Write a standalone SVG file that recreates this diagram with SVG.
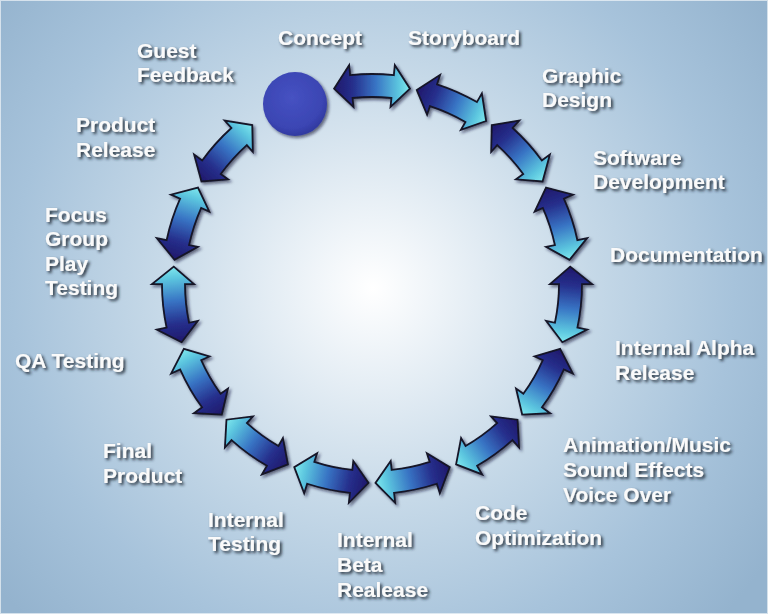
<svg xmlns="http://www.w3.org/2000/svg" xmlns:xlink="http://www.w3.org/1999/xlink" width="768" height="614" viewBox="0 0 768 614">
  <defs>
    <radialGradient id="bg" cx="373" cy="288" r="480" gradientUnits="userSpaceOnUse">
      <stop offset="0" stop-color="#ffffff"/>
      <stop offset="0.12" stop-color="#f0f5f9"/>
      <stop offset="0.45" stop-color="#c6d9e8"/>
      <stop offset="0.75" stop-color="#a7c3db"/>
      <stop offset="1" stop-color="#94b3ce"/>
    </radialGradient>
    <!-- shaft colour runs from navy at the start of each arrow to cyan at its end -->
    <linearGradient id="arrowFill" x1="-38" y1="0" x2="38" y2="0" gradientUnits="userSpaceOnUse">
      <stop offset="0" stop-color="#1e186a"/>
      <stop offset="0.25" stop-color="#262f8c"/>
      <stop offset="0.55" stop-color="#3874c4"/>
      <stop offset="0.85" stop-color="#5cc6df"/>
      <stop offset="1" stop-color="#80e8ee"/>
    </linearGradient>
    <radialGradient id="dotFill" cx="0.45" cy="0.4" r="0.6">
      <stop offset="0" stop-color="#4652c2"/>
      <stop offset="0.8" stop-color="#3b45b3"/>
      <stop offset="1" stop-color="#313aa0"/>
    </radialGradient>
    <filter id="arrowShadow" x="-10%" y="-10%" width="120%" height="120%">
      <feDropShadow dx="2" dy="2" stdDeviation="1.8" flood-color="#0a1030" flood-opacity="0.6"/>
    </filter>
    <filter id="textShadow" x="-10%" y="-30%" width="130%" height="160%">
      <feGaussianBlur in="SourceAlpha" stdDeviation="1.4" result="b"/>
      <feOffset in="b" dx="2" dy="2" result="o"/>
      <feFlood flood-color="#1e2833" flood-opacity="0.95"/>
      <feComposite in2="o" operator="in" result="s"/>
      <feMerge>
        <feMergeNode in="s"/>
        <feMergeNode in="SourceGraphic"/>
      </feMerge>
    </filter>
    <!-- curved double arrow centred on the top of the ring (ring radius 199) -->
    <path id="arrow" d="M -37.97 -195.34 L -22.84 -218.80 L -21.84 -208.86 A 210 210 0 0 1 21.84 -208.86 L 22.84 -218.80 L 37.97 -195.34 L 18.51 -177.04 L 19.45 -186.00 A 187 187 0 0 0 -19.45 -186.00 L -18.51 -177.04 Z"/>
    <style>
      .lbl { font-family: "Liberation Sans", Arial, sans-serif; font-weight: bold; font-size: 21px; fill: #fafafa; filter: url(#textShadow); }
      .arr { fill: url(#arrowFill); stroke: #141428; stroke-width: 1.8; stroke-linejoin: miter; }
    </style>
  </defs>

  <rect x="0" y="0" width="768" height="614" fill="url(#bg)"/>
  <rect x="0.5" y="0.5" width="767" height="613" fill="none" stroke="#ffffff" stroke-opacity="0.6" stroke-width="1"/>

  <!-- connectors: fourteen double arrows spaced 24 degrees round the ring -->
  <g id="connectors" filter="url(#arrowShadow)">
    <use xlink:href="#arrow" class="arr" transform="translate(372 284) rotate(0)"/>
    <use xlink:href="#arrow" class="arr" transform="translate(372 284) rotate(24)"/>
    <use xlink:href="#arrow" class="arr" transform="translate(372 284) rotate(48)"/>
    <use xlink:href="#arrow" class="arr" transform="translate(372 284) rotate(72)"/>
    <use xlink:href="#arrow" class="arr" transform="translate(372 284) rotate(96)"/>
    <use xlink:href="#arrow" class="arr" transform="translate(372 284) rotate(120)"/>
    <use xlink:href="#arrow" class="arr" transform="translate(372 284) rotate(144)"/>
    <use xlink:href="#arrow" class="arr" transform="translate(372 284) rotate(168)"/>
    <use xlink:href="#arrow" class="arr" transform="translate(372 284) rotate(192)"/>
    <use xlink:href="#arrow" class="arr" transform="translate(372 284) rotate(216)"/>
    <use xlink:href="#arrow" class="arr" transform="translate(372 284) rotate(240)"/>
    <use xlink:href="#arrow" class="arr" transform="translate(372 284) rotate(264)"/>
    <use xlink:href="#arrow" class="arr" transform="translate(372 284) rotate(288)"/>
    <use xlink:href="#arrow" class="arr" transform="translate(372 284) rotate(312)"/>
  </g>

  <!-- start point of the cycle -->
  <g id="start-dot" filter="url(#arrowShadow)">
    <circle cx="295" cy="104" r="32" fill="url(#dotFill)"/>
  </g>

  <g id="concept"><text class="lbl" x="278" y="45">Concept</text></g>
  <g id="storyboard"><text class="lbl" x="408" y="45">Storyboard</text></g>
  <g id="graphic-design"><text class="lbl" x="542" y="83">Graphic</text><text class="lbl" x="542" y="107">Design</text></g>
  <g id="software-development"><text class="lbl" x="593" y="165">Software</text><text class="lbl" x="593" y="189">Development</text></g>
  <g id="documentation"><text class="lbl" x="610" y="262">Documentation</text></g>
  <g id="internal-alpha"><text class="lbl" x="615" y="355">Internal Alpha</text><text class="lbl" x="615" y="380">Release</text></g>
  <g id="animation-music"><text class="lbl" x="563" y="452">Animation/Music</text><text class="lbl" x="563" y="477">Sound Effects</text><text class="lbl" x="563" y="502">Voice Over</text></g>
  <g id="code-optimization"><text class="lbl" x="475" y="520">Code</text><text class="lbl" x="475" y="545">Optimization</text></g>
  <g id="internal-beta"><text class="lbl" x="337" y="547">Internal</text><text class="lbl" x="337" y="572">Beta</text><text class="lbl" x="337" y="597">Realease</text></g>
  <g id="internal-testing"><text class="lbl" x="208" y="527">Internal</text><text class="lbl" x="208" y="551">Testing</text></g>
  <g id="final-product"><text class="lbl" x="103" y="458">Final</text><text class="lbl" x="103" y="483">Product</text></g>
  <g id="qa-testing"><text class="lbl" x="15" y="368">QA Testing</text></g>
  <g id="focus-group"><text class="lbl" x="45" y="222">Focus</text><text class="lbl" x="45" y="246">Group</text><text class="lbl" x="45" y="271">Play</text><text class="lbl" x="45" y="295">Testing</text></g>
  <g id="product-release"><text class="lbl" x="76" y="132">Product</text><text class="lbl" x="76" y="157">Release</text></g>
  <g id="guest-feedback"><text class="lbl" x="137" y="58">Guest</text><text class="lbl" x="137" y="82">Feedback</text></g>
</svg>
